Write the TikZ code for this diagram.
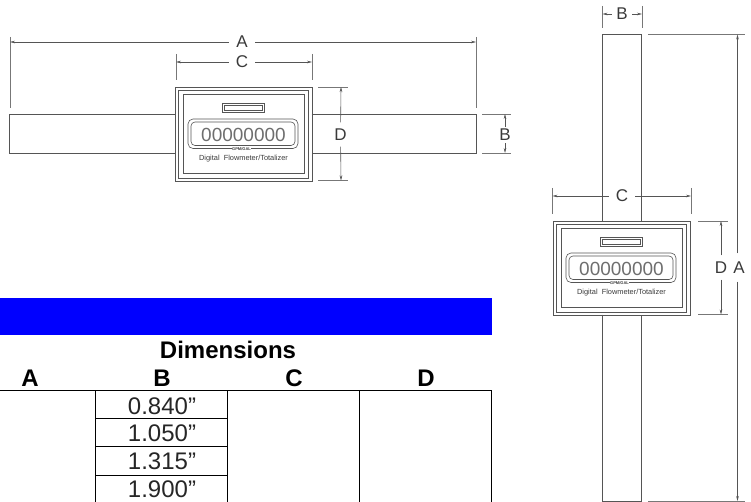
\documentclass[tikz,border=0pt]{standalone}
\usepackage{fontspec}
\setmainfont{Liberation Sans}
\usetikzlibrary{arrows.meta}
\definecolor{ink}{HTML}{555555}
\definecolor{txt}{HTML}{3A3A3A}
\tikzset{
  part/.style={draw=ink,line width=0.8pt},
  fine/.style={draw=ink,line width=0.6pt},
  ext/.style={draw=ink!80,line width=0.6pt},
  dimline/.style={draw=ink,line width=0.6pt,-{Stealth[length=5pt,width=2.6pt]}},
  dimtext/.style={text=txt,font=\fontsize{17}{17}\selectfont,inner sep=0pt},
  rule/.style={draw=black,line width=0.8pt},
  cell/.style={text=black!85,font=\fontsize{24}{24}\selectfont,inner sep=0pt,anchor=base},
  head/.style={text=black,font=\fontsize{24}{24}\selectfont\bfseries,inner sep=0pt,anchor=base},
}
\newcommand{\devicebody}[2]{%
  \begin{scope}[shift={(#1,#2)}]
    \draw[part] (0,0) rectangle (137,94);
    \draw[fine] (3,3) rectangle (133,91);
    \draw[fine] (7.5,7) rectangle (129,86.5);
    \draw[fine] (46.5,16.5) rectangle (89,25);
    \draw[fine] (49,18.5) rectangle (86.5,23);
    \draw[fine,rounded corners=5pt] (12.5,32) rectangle (122.5,61.5);
    \draw[fine,rounded corners=4pt] (15.5,35) rectangle (119.5,58.5);
    \node[inner sep=0pt,text=ink!85,font=\fontsize{19}{19}\selectfont] at (68,48) {00000000};
    \node[inner sep=0pt,text=txt,fill=white,font=\fontsize{4}{4}\selectfont\bfseries] at (66,62.5) {GPM/GAL};
    \node[inner sep=0pt,text=txt,font=\fontsize{7.4}{8}\selectfont] at (68,72) {Digital\ \ Flowmeter/Totalizer};
  \end{scope}}
\begin{document}
\begin{tikzpicture}[x=1pt,y=-1pt]
\useasboundingbox (0,0) rectangle (751,502);
% ---------- horizontal view
\coordinate (hAl) at (10,44); \coordinate (hAr) at (476,44);
\coordinate (hCl) at (176,61); \coordinate (hCr) at (312,61);
\draw[ext] (10,37) -- (10,108);
\draw[ext] (476,37) -- (476,108);
\draw[ext] (176,54) -- (176,80);
\draw[ext] (312,54) -- (312,80);
\node[dimtext,minimum width=26pt,minimum height=14pt] (hA) at (242,42) {A};
\node[dimtext,minimum width=26pt,minimum height=14pt] (hC) at (242,62) {C};
\draw[dimline] (hA) -- (hA -| hAl);
\draw[dimline] (hA) -- (hA -| hAr);
\draw[dimline] (hC) -- (hC -| hCl);
\draw[dimline] (hC) -- (hC -| hCr);
\draw[part] (175.5,114) -- (9.5,114) -- (9.5,153) -- (175.5,153);
\draw[part] (311.5,114) -- (476,114) -- (476,153) -- (311.5,153);
\devicebody{175.5}{87}
\draw[ext] (318,87) -- (348,87);
\draw[ext] (318,180.5) -- (348,180.5);
\node[dimtext,minimum height=24pt,minimum width=14pt] (hD) at (340.5,134.5) {D};
\coordinate (hDt) at (341,87); \coordinate (hDb) at (341,180.5);
\draw[dimline] (hD) -- (hDt);
\draw[dimline] (hD) -- (hDb);
\draw[ext] (482,114) -- (511,114);
\draw[ext] (482,153) -- (511,153);
\node[dimtext,minimum height=16pt,minimum width=12pt] (hB) at (505,135) {B};
\coordinate (hBt) at (505,114); \coordinate (hBb) at (505,153);
\draw[dimline] (hB) -- (hBt);
\draw[dimline] (hB) -- (hBb);
% ---------- vertical view
\draw[part] (602.5,221) -- (602.5,34.5) -- (641.5,34.5) -- (641.5,221);
\draw[part] (602.5,314.5) -- (602.5,501) -- (641.5,501) -- (641.5,314.5);
\devicebody{553.5}{221}
\draw[ext] (602.5,6) -- (602.5,28);
\draw[ext] (642,6) -- (642,28);
\node[dimtext,minimum width=20pt,minimum height=14pt] (vB) at (622,14) {B};
\coordinate (vBl) at (602.5,13); \coordinate (vBr) at (642,13);
\draw[dimline] (vB) -- (vB -| vBl);
\draw[dimline] (vB) -- (vB -| vBr);
\draw[ext] (552.5,188) -- (552.5,214);
\draw[ext] (691,188) -- (691,214);
\node[dimtext,minimum width=26pt,minimum height=14pt] (vC) at (622,196) {C};
\coordinate (vCl) at (552.5,196); \coordinate (vCr) at (691,196);
\draw[dimline] (vC) -- (vC -| vCl);
\draw[dimline] (vC) -- (vC -| vCr);
\draw[ext] (698,221) -- (728,221);
\draw[ext] (698,314.5) -- (728,314.5);
\node[dimtext,minimum height=24pt,minimum width=14pt] (vD) at (721,267.5) {D};
\coordinate (vDt) at (721,221); \coordinate (vDb) at (721,314.5);
\draw[dimline] (vD) -- (vDt);
\draw[dimline] (vD) -- (vDb);
\draw[ext] (648,34.5) -- (745,34.5);
\draw[ext] (648,501) -- (745,501);
\node[dimtext,minimum height=28pt,minimum width=12pt] (vA) at (739,267.5) {A};
\coordinate (vAt) at (737.5,34.5); \coordinate (vAb) at (737.5,501);
\draw[dimline] (vAt |- vA.north) -- (vAt);
\draw[dimline] (vAb |- vA.south) -- (vAb);
% ---------- table
\fill[blue] (0,298) rectangle (492,335);
\node[head] (title) at (228,358) {Dimensions};
\node[head] (colA) at (30,386) {A};
\node[head] (colB) at (162,386) {B};
\node[head] (colC) at (294,386) {C};
\node[head] (colD) at (426,386) {D};
\draw[rule] (0,390) -- (491.5,390);
\draw[rule] (95.5,390) -- (95.5,502);
\draw[rule] (227,390) -- (227,502);
\draw[rule] (359,390) -- (359,502);
\draw[rule] (491.5,390) -- (491.5,502);
\draw[rule] (95.5,418) -- (227,418);
\draw[rule] (95.5,446) -- (227,446);
\draw[rule] (95.5,475) -- (227,475);
\node[cell] (b1) at (162,414) {0.840”};
\node[cell] (b2) at (162,441.7) {1.050”};
\node[cell] (b3) at (162,469.3) {1.315”};
\node[cell] (b4) at (162,497) {1.900”};
\end{tikzpicture}
\end{document}
